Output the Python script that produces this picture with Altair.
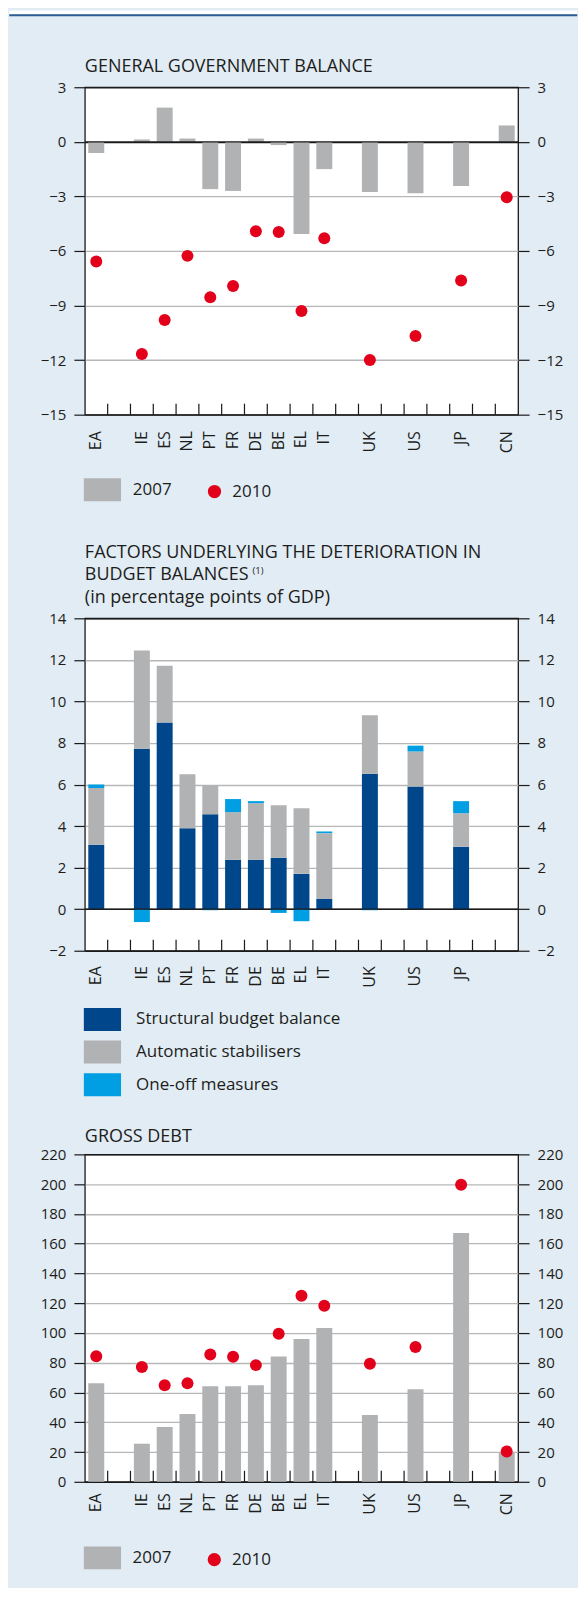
import altair as alt
import pandas as pd

# ---------------- data ----------------
slots = ["EA", "g1", "IE", "ES", "NL", "PT", "FR", "DE", "BE", "EL", "IT",
         "g2", "UK", "g3", "US", "g4", "JP", "g5", "CN"]
countries = ["EA", "IE", "ES", "NL", "PT", "FR", "DE", "BE", "EL", "IT", "UK", "US", "JP", "CN"]

balance_2007 = [-0.62, 0.13, 1.88, 0.18, -2.6, -2.7, 0.18, -0.18, -5.07, -1.5, -2.76, -2.83, -2.43, 0.9]
balance_2010 = [-6.58, -11.67, -9.8, -6.27, -8.54, -7.93, -4.92, -4.96, -9.3, -5.3, -12.0, -10.68, -7.63, -3.05]
balance_ticks = [3, 0, -3, -6, -9, -12, -15]

factor_countries = ["EA", "IE", "ES", "NL", "PT", "FR", "DE", "BE", "EL", "IT", "UK", "US", "JP"]
structural = [3.1, 7.72, 8.99, 3.89, 4.57, 2.38, 2.38, 2.48, 1.7, 0.49, 6.52, 5.9, 3.01]
automatic = [2.73, 4.73, 2.73, 2.61, 1.39, 2.29, 2.72, 2.52, 3.16, 3.17, 2.81, 1.69, 1.61]
one_off = [0.17, -0.62, 0.0, 0.0, -0.05, 0.63, 0.1, -0.18, -0.58, 0.08, -0.05, 0.28, 0.58]
factor_names = ["Structural budget balance", "Automatic stabilisers", "One-off measures"]
factor_ticks = [14, 12, 10, 8, 6, 4, 2, 0, -2]

debt_2007 = [66.2, 25.6, 36.9, 45.6, 64.2, 64.2, 64.9, 84.2, 96.0, 103.4, 44.9, 62.2, 167.1, 19.5]
debt_2010 = [84.4, 77.1, 64.9, 66.2, 85.6, 84.0, 78.4, 99.5, 125.0, 118.3, 79.3, 90.5, 199.6, 20.4]
debt_ticks = [220, 200, 180, 160, 140, 120, 100, 80, 60, 40, 20, 0]

# ---------------- style ----------------
FONT = "Open Sans"
TXT = "#1d1d1b"
GRAY = "#b1b2b4"
RED = "#e2001a"
DBLUE = "#00468b"
CYAN = "#009fe3"
BG = "#e1ecf4"
GRID = "#b7b7b7"
DARK = "#1a1a1a"
TOPLINE = "#2b5d93"
W = 434
LEFT = -75.7
RIGHT = 493.3
RECT = "M-1.62,-1H1.62V1H-1.62Z"

one = pd.DataFrame({"k": [0]})


def x_enc(label_pad, hide=()):
    cond = " || ".join([f"datum.label == '{h}'" for h in hide] + ["indexof(datum.label, 'g') == 0"])
    return alt.X(
        "slot:N",
        scale=alt.Scale(domain=slots, paddingInner=0, paddingOuter=0),
        axis=alt.Axis(title=None, labelAngle=270, ticks=False, tickSize=0, domain=False, grid=False,
                      labelPadding=label_pad, labelFont=FONT, labelFontSize=16, labelColor=TXT,
                      labelExpr=f"({cond}) ? '' : datum.label"),
    )


def y_axis(orient, values, domain, grid):
    kw = dict(orient=orient, values=values, title=None, domain=False, ticks=True, tickSize=11,
              tickColor=DARK, tickWidth=1.2, labelPadding=8, labelFont=FONT, labelFontSize=15,
              labelColor=TXT, grid=grid)
    if grid:
        kw["gridColor"] = {"condition": {"test": f"datum.value == {domain[0]} || datum.value == {domain[1]} || datum.value == 0",
                                         "value": DARK}, "value": GRID}
        kw["gridWidth"] = 1.3
    return alt.Axis(**kw)


def yscale(domain):
    return alt.Scale(domain=domain, nice=False)


def box_legend(x, y, label_offset, row_pad=0):
    return alt.Legend(orient="none", legendX=x, legendY=y, title=None, symbolType=RECT, symbolSize=529,
                      symbolStrokeWidth=0, symbolOpacity=1, labelFont=FONT, labelFontSize=17,
                      labelColor=TXT, labelOffset=label_offset, padding=0, rowPadding=row_pad,
                      labelLimit=400)


def dot_legend(x, y, label_offset):
    return alt.Legend(orient="none", legendX=x, legendY=y, title=None, symbolType="circle", symbolSize=177,
                      symbolStrokeWidth=0, symbolOpacity=1, labelFont=FONT, labelFontSize=17,
                      labelColor=TXT, labelOffset=label_offset, padding=0, labelLimit=400)


def tick_layer(h, label_pad, hide=()):
    df = pd.DataFrame({"slot": slots[1:]})
    enc = x_enc(label_pad, hide)
    enc.bandPosition = 0
    return alt.Chart(df).mark_rule(color=DARK, strokeWidth=1.2).encode(
        x=enc, y=alt.value(h), y2=alt.value(h - 11))


def title_layer(text, y, size=18, line_height=22.3, x=0):
    return alt.Chart(one).mark_text(align="left", baseline="alphabetic", font=FONT, fontSize=size,
                                    color=TXT, lineHeight=line_height).encode(
        x=alt.value(x), y=alt.value(y), text=alt.value(text))


# ---------------- chart 1: general government balance ----------------
H1 = 328
dom1 = [-15, 3]
df1 = pd.DataFrame({"slot": countries, "v2007": balance_2007, "v2010": balance_2010,
                    "s07": "2007", "s10": "2010"})

deco_white = alt.Chart(one).mark_rect(color="white").encode(
    x=alt.value(LEFT), x2=alt.value(RIGHT), y=alt.value(-77), y2=alt.value(-73))
deco_blue = alt.Chart(one).mark_rect(color=TOPLINE).encode(
    x=alt.value(LEFT), x2=alt.value(RIGHT), y=alt.value(-73), y2=alt.value(-71))

bars1 = alt.Chart(df1).mark_bar(width=alt.RelativeBandSize(0.7)).encode(
    x=x_enc(16),
    y=alt.Y("v2007:Q", scale=yscale(dom1), axis=y_axis("left", balance_ticks, dom1, True)),
    color=alt.Color("s07:N", scale=alt.Scale(domain=["2007"], range=[GRAY]),
                    legend=box_legend(6.1, 391.7, 18.9)),
)
zero1 = alt.Chart(one).mark_rule(color=DARK, strokeWidth=1.3).encode(
    y=alt.YDatum(0, scale=yscale(dom1), axis=None))
pts1 = alt.Chart(df1).mark_circle(size=144, opacity=1).encode(
    x=x_enc(16),
    y=alt.Y("v2010:Q", scale=yscale(dom1), axis=y_axis("right", balance_ticks, dom1, False)),
    color=alt.Color("s10:N", scale=alt.Scale(domain=["2010"], range=[RED]),
                    legend=dot_legend(121.35, 396.5, 9.35)),
)
c1 = alt.layer(deco_white, deco_blue, title_layer("GENERAL GOVERNMENT BALANCE", -15.7),
               bars1, zero1, pts1, tick_layer(H1, 16)).resolve_scale(
    color="independent").resolve_legend(color="independent").resolve_axis(
    y="independent").properties(width=W, height=H1)

# ---------------- chart 2: factors ----------------
H2 = 333
dom2 = [-2, 14]
rows = []
for i, c in enumerate(factor_countries):
    for j, (name, vals) in enumerate(zip(factor_names, [structural, automatic, one_off])):
        rows.append({"slot": c, "component": name, "value": vals[i], "ord": j})
df2 = pd.DataFrame(rows)

bars2 = alt.Chart(df2).mark_bar(width=alt.RelativeBandSize(0.7)).encode(
    x=x_enc(15, hide=("CN",)),
    y=alt.Y("value:Q", stack="zero", scale=yscale(dom2), axis=y_axis("left", factor_ticks, dom2, True)),
    color=alt.Color("component:N", scale=alt.Scale(domain=factor_names, range=[DBLUE, GRAY, CYAN]),
                    legend=box_legend(6.1, 390.3, 22.2, row_pad=9.7)),
    order=alt.Order("ord:Q"),
)
zero2 = alt.Chart(one).mark_rule(color=DARK, strokeWidth=1.3).encode(
    y=alt.YDatum(0, scale=yscale(dom2), axis=y_axis("right", factor_ticks, dom2, False)))
t2 = title_layer(["FACTORS UNDERLYING THE DETERIORATION IN", "BUDGET BALANCES",
                  "(in percentage points of GDP)"], -60.3)
t2sup = title_layer("(1)", -44.5, size=9.5, x=168)
c2 = alt.layer(t2, t2sup, bars2, zero2, tick_layer(H2, 15, hide=("CN",))).resolve_axis(
    y="independent").properties(width=W, height=H2)

# ---------------- chart 3: gross debt ----------------
H3 = 328
dom3 = [0, 220]
df3 = pd.DataFrame({"slot": countries, "v2007": debt_2007, "v2010": debt_2010,
                    "s07": "2007", "s10": "2010"})
bars3 = alt.Chart(df3).mark_bar(width=alt.RelativeBandSize(0.7)).encode(
    x=x_enc(11),
    y=alt.Y("v2007:Q", scale=yscale(dom3), axis=y_axis("left", debt_ticks, dom3, True)),
    color=alt.Color("s07:N", scale=alt.Scale(domain=["2007"], range=[GRAY]),
                    legend=box_legend(6.1, 392.7, 18.7)),
)
pts3 = alt.Chart(df3).mark_circle(size=144, opacity=1).encode(
    x=x_enc(11),
    y=alt.Y("v2010:Q", scale=yscale(dom3), axis=y_axis("right", debt_ticks, dom3, False)),
    color=alt.Color("s10:N", scale=alt.Scale(domain=["2010"], range=[RED]),
                    legend=dot_legend(121.15, 397.5, 9.35)),
)
c3 = alt.layer(title_layer("GROSS DEBT", -12.3), bars3, pts3, tick_layer(H3, 11)).resolve_scale(
    color="independent").resolve_legend(color="independent").resolve_axis(
    y="independent").properties(width=W, height=H3)

chart = alt.vconcat(c1, c2, c3, spacing=204, bounds="flush",
                    padding={"left": 0, "top": 0, "right": 0, "bottom": 16},
                    background=BG).resolve_scale(color="independent").resolve_legend(
    color="independent").configure_view(stroke=DARK, strokeWidth=1.3, fill="white")

chart.save("out.html", embed_options={"renderer": "svg", "actions": False})
